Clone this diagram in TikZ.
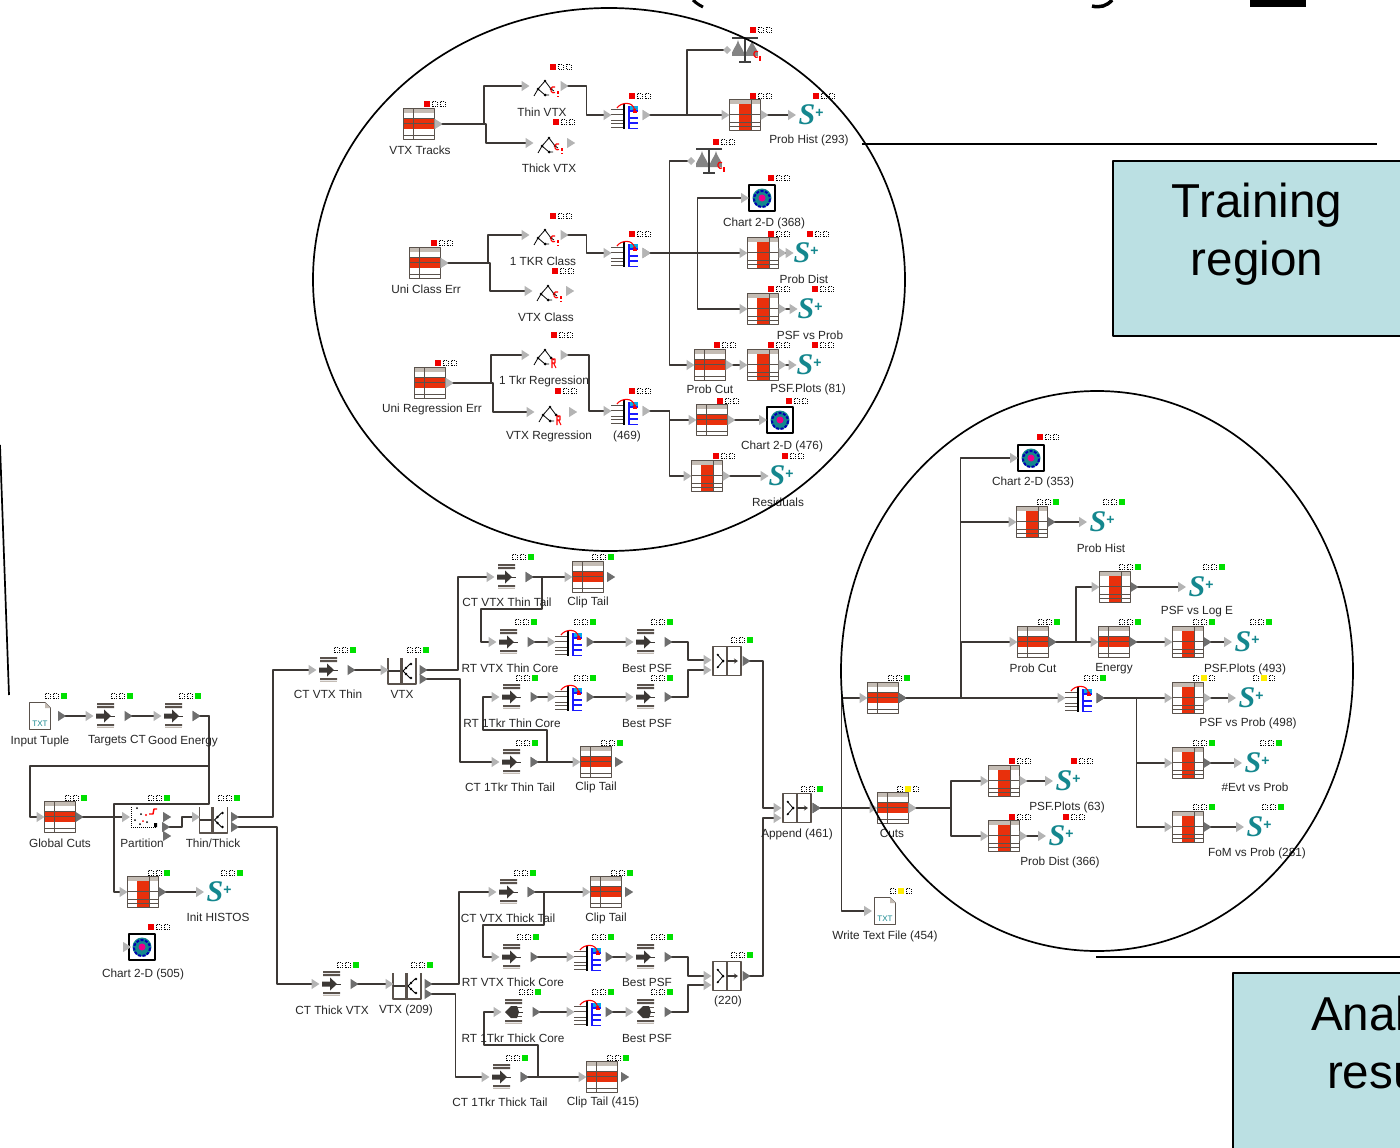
\documentclass[tikz,border=0pt]{standalone}
\usepackage{fontspec}
\setmainfont{Liberation Sans}
\newfontfamily\spfont{Liberation Serif}
\usetikzlibrary{arrows.meta,shapes.geometric}
\definecolor{wirec}{HTML}{3C3835}
\definecolor{portl}{HTML}{B4B4B4}
\definecolor{portd}{HTML}{6E6E6E}
\definecolor{tabl}{HTML}{5A524C}
\definecolor{tabg}{HTML}{C4BCB4}
\definecolor{tabr}{HTML}{E8300C}
\definecolor{teal1}{HTML}{14878E}
\definecolor{boxc}{HTML}{BBE0E3}
\definecolor{stred}{HTML}{F00000}
\definecolor{stgrn}{HTML}{00E000}
\definecolor{styel}{HTML}{FFEE00}
\newcommand{\stat}[4]{\foreach \k in {1,2,3}{\ifnum\k=#3\relax\fill[#4] ({#1+8*\k-18.75},{#2-2.75}) rectangle ++(5.5,5.5);\else\draw[statd] ({#1+8*\k-18.75},{#2-2.5}) rectangle ++(5,5);\fi}}
\newcommand{\modu}[9][]{\node[modbox,#1] (#2) at (#4,#5) {};\pic at (#4,#5) {#3};\stat{#6}{#7}{#8}{#9}}
\newcommand{\splus}[8][]{\node[spbox,#1] (#2) at (#3,#4) {{\fontsize{30}{30}\spfont\bfseries\itshape S}\raisebox{7pt}{\fontsize{14}{14}\selectfont\bfseries +}};\stat{#5}{#6}{#7}{#8}}

\begin{document}
\begin{tikzpicture}[x=1pt,y=-1pt,line join=round]
\tikzset{every node/.style={outer sep=0pt,inner sep=0pt}}
\tikzset{modbox/.style={minimum width=31pt,minimum height=30pt}}
\tikzset{spbox/.style={minimum width=30pt,minimum height=30pt,text=teal1}}
\tikzset{lab/.style={font=\fontsize{11.8}{11.8}\selectfont,text=black!85,yshift=-1pt}}
\tikzset{statd/.style={draw=black,line width=0.7pt,dash pattern=on 0.8pt off 1.2pt}}
\tikzset{outp/.style={isosceles triangle,isosceles triangle stretches,minimum width=10pt,minimum height=8pt,fill=#1},outp/.default=portd}
\tikzset{wire/.style={draw=wirec,line width=1.3pt,{Triangle[reversed,length=8pt,width=10pt,color=portl]}-{Triangle[length=8pt,width=10pt,color=portl]}}}
\tikzset{wired/.style={draw=wirec,line width=1.3pt,{Triangle[reversed,length=8pt,width=10pt,color=portd]}-{Triangle[length=8pt,width=10pt,color=portl]}}}
\tikzset{wirem/.style={draw=wirec,line width=1.3pt,{Triangle[reversed,length=8pt,width=10pt,color=portl]}-{Diamond[length=8pt,width=8pt,color=portl]}}}
\tikzset{regbox/.style={draw=black,line width=1.5pt,fill=boxc,anchor=north west}}
\tikzset{bigt/.style={font=\fontsize{47.6}{58}\selectfont}}
\tikzset{rowtab/.pic={
\draw[tabl,line width=1.2pt,fill=white] (-15.5,-15.5) rectangle (15.5,15.5);
\fill[tabg] (-15,-15) rectangle (15,-11);
\fill[tabr] (-15,-6) rectangle (15,5);
\draw[tabl,line width=1pt] (-15,-6)--(15,-6) (-15,-1)--(15,-1) (-15,11)--(15,11) (-6,-15)--(-6,15);
}}
\tikzset{coltab/.pic={
\draw[tabl,line width=1.2pt,fill=white] (-15.5,-15.5) rectangle (15.5,15.5);
\fill[tabg] (-15,-15) rectangle (15,-11);
\fill[tabr] (-6,-11) rectangle (6,15);
\draw[tabl,line width=1pt] (-15,-1)--(15,-1) (-15,7)--(15,7) (-15,11)--(15,11) (6,-15)--(6,15);
}}
\tikzset{filt/.pic={
\fill[tabl] (-12,-13) rectangle (5,-11) (-12,-10) rectangle (5,-8) (-12,8) rectangle (5,10);
\fill[tabg] (-12,11) rectangle (5,12);
\fill[wirec] (-13,-2.5)--(-5,-2.5)--(-5,-6.5)--(2,0)--(-5,6.5)--(-5,2.5)--(-13,2.5)--cycle;
\draw[wirec,line width=0.8pt] (1,0)--(6,0);
}}
\tikzset{filtb/.pic={
\fill[tabl] (-12,-13) rectangle (5,-11) (-12,-10) rectangle (5,-8) (-12,8) rectangle (5,10);
\fill[tabg] (-12,11) rectangle (5,12);
\draw[tabl,line width=1pt] (-2,-4.5)--(5,-4.5) (-2,4.5)--(5,4.5);
\fill[wirec] (-12,0)--(-6,-6)--(0,-6)--(2,0)--(0,6)--(-6,6)--cycle;
\draw[wirec,line width=0.8pt] (1,0)--(6,0);
}}
\tikzset{treec/.pic={
\draw[black,line width=0.8pt] (-11,10)--(-7,3)--(0,-5)--(6,3)--(9,5) (-7,3)--(0,9)--(4,9);
\fill[black] (0,-5) circle (1.3) (-7,3) circle (1.5) (6,3) circle (1.5) (0,9) circle (1.5);
\draw[red,line width=1.1pt] (10,6.5) arc (60:300:2.8 and 3.2);
\draw[red,line width=1.1pt] (13,5)--(13,8) (13,10)--(13,11);
}}
\tikzset{treer/.pic={
\draw[black,line width=0.8pt] (-11,10)--(-7,3)--(0,-5)--(6,3)--(9,5) (-7,3)--(0,9)--(4,9);
\fill[black] (0,-5) circle (1.3) (-7,3) circle (1.5) (6,3) circle (1.5) (0,9) circle (1.5);
\draw[red,line width=1.1pt] (7,13)--(7,4)--(10,4)--(10,8)--(7,8) (8.5,8)--(11,13);
}}
\tikzset{mergep/.pic={
\draw[tabl,line width=1pt] (-16,-6)--(-3,-6) (-16,-1)--(-3,-1) (-16,5)--(-3,5) (-16,8.5)--(-3,8.5) (-16,12)--(-3,12);
\draw[black,line width=1.4pt] (-3,-11)--(-3,14);
\fill[cyan] (2,-9) rectangle (11,-4);
\draw[blue!90,line width=1.2pt] (2,-9)--(2,14) (2,-4)--(11,-4) (2,3)--(11,3) (2,8)--(11,8) (2,13.5)--(11,13.5);
\draw[red,line width=1.1pt,-{Stealth[length=3.5pt,width=4pt]}] (-10,-7) .. controls (-6,-13) and (6,-14) .. (8,-3);
\draw[red,line width=1.1pt] (6,-3)--(10,-3);
}}
\tikzset{scalep/.pic={
\fill[portd!85] (-7,-10) .. controls (-5,-2) and (0,0) .. (-1,6)--(-13,6) .. controls (-14,0) and (-9,-2) .. (-7,-10) (7,-10) .. controls (9,-2) and (14,0) .. (13,6)--(1,6) .. controls (0,0) and (5,-2) .. (7,-10);
\draw[black!75,line width=1.6pt] (-13,-12)--(13,-12) (0,-12)--(0,12) (-6,12)--(6,12);
\draw[red,line width=1.2pt] (13,7) arc (60:300:2.8 and 3.2);
\draw[red,line width=1.1pt] (15,6)--(15,11);
}}
\tikzset{scatterp/.pic={
\draw[black,line width=0.8pt,dash pattern=on 1pt off 1pt] (-13,-10)--(-13,10)--(12,10);
\fill[black] (-7,-9) circle (1) (-3,-3) circle (1) (-9,3) circle (1) (-4,7) circle (1) (3,5) circle (1) (10,6) rectangle (13,10);
\fill[red] (2,-2) circle (1.1) (-1,4) circle (1);
\draw[red,line width=1.4pt] (5,-3)--(9,-3)--(10,-8)--(13,-8);
}}
\tikzset{splitp/.pic={
\draw[tabl,line width=1.1pt] (-16,-13)--(-16,13)--(12,13)--(12,-13);
\draw[tabl,line width=3pt] (-3,-13)--(-3,13);
\draw[wirec,line width=2pt] (-16,0)--(-4,0);
\draw[black,line width=0.8pt] (-1,0)--(6,-7) (-1,0)--(6,7);
\fill[black] (2,-3) circle (1.3) (2,3) circle (1.3) (7,-7) circle (1.3) (7,7) circle (1.3);
}}
\tikzset{appendp/.pic={
\draw[tabl,line width=1.2pt,fill=white] (-14,-14.5) rectangle (14,14.5);
\draw[tabl,line width=1.6pt] (0,-14.5)--(0,14.5);
\draw[black,line width=0.8pt] (-10,-7)--(-4,0)--(-10,7);
\fill[black] (-4,0) circle (1.5) (-9,-6) circle (1.2) (-9,6) circle (1.2);
\draw[wirec,line width=2pt,-{Stealth[length=4pt,width=5pt]}] (0,0)--(11,0);
}}
\tikzset{filep/.pic={
\draw[tabl,line width=0.9pt,fill=white] (-10.5,-13.5)--(5,-13.5)--(10.5,-8)--(10.5,13.5)--(-10.5,13.5)--cycle;
\fill[tabg] (5,-13.5)--(10.5,-8)--(5,-8)--cycle;
}}
\tikzset{chartp/.pic={
\draw[black,line width=1.3pt,fill=white] (-13,-13) rectangle (13,13);
\fill[teal1] (0,0) circle (9.5);
\draw[blue!70!black,line width=2pt,dash pattern=on 3pt off 1.5pt] (0,1) circle (8);
\fill[magenta] (0,0) circle (3.5);
}}
\useasboundingbox (0,0) rectangle (1400,1148);
% title remains
\draw[black,line width=3pt] (693,0) .. controls (696,3) and (699,5) .. (703,7);
\draw[black,line width=3.5pt] (1092,6) .. controls (1100,8) and (1107,6) .. (1112,0);
\fill[black] (1250,0) rectangle (1306,7);
% training chain
\modu{vtxtracks}{rowtab}{419}{124}{435}{104}{1}{stred}
\modu{thinvtx}{treec}{545}{86}{561}{67}{1}{stred}
\modu{thickvtx}{treec}{549}{143}{564}{122}{1}{stred}
\modu{mergeA}{mergep}{627}{115}{640}{96}{1}{stred}
\modu[minimum width=28pt]{scaleA}{scalep}{745}{50}{761}{30}{1}{stred}
\modu{tabA}{coltab}{745}{115}{761}{96}{1}{stred}
\splus{spA}{811}{115}{824}{96}{1}{stred}
\modu{unicls}{rowtab}{425}{263}{442}{243}{1}{stred}
\modu{tkrcls}{treec}{545}{235}{561}{216}{1}{stred}
\modu{vtxcls}{treec}{548}{291}{563}{271}{1}{stred}
\modu{mergeB}{mergep}{627}{253}{640}{234}{1}{stred}
\modu[minimum width=28pt]{scaleB}{scalep}{709}{161}{724}{142}{1}{stred}
\modu[minimum width=26pt]{chartA}{chartp}{762}{198}{779}{178}{1}{stred}
\modu{tabB}{coltab}{763}{253}{779}{234}{1}{stred}
\splus[minimum width=22pt]{spB}{806}{253}{818}{234}{1}{stred}
\modu{tabC}{coltab}{763}{309}{779}{289}{1}{stred}
\splus[minimum width=22pt]{spC}{810}{309}{823}{289}{1}{stred}
\modu{probcutA}{rowtab}{710}{365}{725}{345}{1}{stred}
\modu{tabD}{coltab}{763}{365}{779}{345}{1}{stred}
\splus[minimum width=22pt]{spD}{809}{365}{823}{345}{1}{stred}
\modu{unireg}{rowtab}{430}{383}{446}{363}{1}{stred}
\modu{tkrreg}{treer}{545}{355}{562}{335}{1}{stred}
\modu{vtxreg}{treer}{550}{412}{566}{391}{1}{stred}
\modu{mergeC}{mergep}{627}{411}{640}{391}{1}{stred}
\modu{tabE}{rowtab}{712}{420}{728}{401}{1}{stred}
\modu[minimum width=26pt]{chartB}{chartp}{780}{420}{797}{401}{1}{stred}
\modu{tabF}{coltab}{707}{476}{724}{456}{1}{stred}
\splus[minimum width=22pt]{spF}{781}{476}{793}{456}{1}{stred}
\node[outp=portl] (thickvtxout) at (570,143) {};
\node[outp=portl] (vtxclsout) at (569,291) {};
\node[outp=portl] (vtxregout) at (572,412) {};
\draw[wire] (vtxtracks.east) -- ++(49.5,0) |- (thinvtx.west);
\draw[wire] (vtxtracks.east) -- ++(51.5,0) |- (thickvtx.west);
\draw[wire] (thinvtx.east) -- ++(26,0) |- (mergeA.west);
\draw[wire] (mergeA.east) -- (tabA.west);
\draw[wirem] (mergeA.east) -- ++(44.5,0) |- (scaleA.west);
\draw[wire] (tabA.east) -- (spA.west);
\draw[wire] (unicls.east) -- ++(47.5,0) |- (tkrcls.west);
\draw[wire] (unicls.east) -- ++(49.5,0) |- (vtxcls.west);
\draw[wire] (tkrcls.east) -- ++(26,0) |- (mergeB.west);
\draw[wire] (mergeB.east) -- (tabB.west);
\draw[wirem] (mergeB.east) -- ++(27,0) |- (scaleB.west);
\draw[wire] (mergeB.east) -- ++(27,0) |- (probcutA.west);
\draw[wire] (mergeB.east) -- ++(55,0) |- (chartA.west);
\draw[wire] (mergeB.east) -- ++(55,0) |- (tabC.west);
\draw[wire] (tabB.east) -- (spB.west);
\draw[wire] (tabC.east) -- (spC.west);
\draw[wire] (probcutA.east) -- (tabD.west);
\draw[wire] (tabD.east) -- (spD.west);
\draw[wire] (unireg.east) -- ++(45.5,0) |- (tkrreg.west);
\draw[wire] (unireg.east) -- ++(47.5,0) |- (vtxreg.west);
\draw[wire] (tkrreg.east) -- ++(28.5,0) |- (mergeC.west);
\draw[wire] (mergeC.east) -- ++(27,0) |- (tabE.west);
\draw[wire] (mergeC.east) -- ++(27,0) |- (tabF.west);
\draw[wire] (tabE.east) -- (chartB.west);
\draw[wire] (tabF.east) -- (spF.west);
\node[lab] (labA) at (420,149) {VTX Tracks};
\node[lab] (labB) at (542,111) {Thin VTX};
\node[lab] (labC) at (549,167) {Thick VTX};
\node[lab] (labD) at (809,139) {Prob Hist (293)};
\node[lab] (labE) at (426,288) {Uni Class Err};
\node[lab] (labF) at (543,260) {1 TKR Class};
\node[lab] (labG) at (546,316) {VTX Class};
\node[lab] (labH) at (764,222) {Chart 2-D (368)};
\node[lab] (labI) at (804,278) {Prob Dist};
\node[lab] (labJ) at (810,334) {PSF vs Prob};
\node[lab] (labK) at (710,388) {Prob Cut};
\node[lab] (labL) at (808,388) {PSF.Plots (81)};
\node[lab] (labM) at (432,408) {Uni Regression Err};
\node[lab] (labN) at (544,380) {1 Tkr Regression};
\node[lab] (labO) at (549,435) {VTX Regression};
\node[lab] (labP) at (627,435) {(469)};
\node[lab] (labQ) at (782,445) {Chart 2-D (476)};
\node[lab] (labR) at (778,501) {Residuals};
% analysis chain
\modu{rowZ}{rowtab}{883}{698}{899}{678}{3}{stgrn}
\modu[minimum width=26pt]{chartC}{chartp}{1031}{458}{1048}{437}{1}{stred}
\modu{tabG}{coltab}{1032}{522}{1048}{502}{3}{stgrn}
\splus{spG}{1102}{522}{1114}{502}{3}{stgrn}
\modu{tabH}{coltab}{1115}{587}{1130}{567}{3}{stgrn}
\splus{spH}{1201}{587}{1214}{567}{3}{stgrn}
\modu{probcutB}{rowtab}{1033}{642}{1049}{622}{3}{stgrn}
\modu{energy}{rowtab}{1114}{642}{1130}{622}{3}{stgrn}
\modu{tabI}{coltab}{1188}{642}{1204}{622}{3}{stgrn}
\splus{spI}{1247}{642}{1261}{622}{3}{stgrn}
\modu{mergeH}{mergep}{1081}{698}{1095}{678}{3}{stgrn}
\modu{tabJ}{coltab}{1188}{698}{1204}{678}{2}{styel}
\splus{spJ}{1251}{698}{1264}{678}{2}{styel}
\modu{tabK}{coltab}{1188}{763}{1204}{743}{3}{stgrn}
\splus{spK}{1257}{763}{1271}{743}{3}{stgrn}
\modu{tabL}{coltab}{1188}{827}{1204}{807}{3}{stgrn}
\splus{spL}{1259}{827}{1273}{807}{3}{stgrn}
\modu{cuts}{rowtab}{893}{808}{908}{789}{2}{styel}
\modu{tabM}{coltab}{1004}{781}{1020}{761}{1}{stred}
\splus{spM}{1068}{781}{1082}{761}{1}{stred}
\modu{tabN}{coltab}{1004}{836}{1020}{817}{1}{stred}
\splus{spN}{1061}{836}{1074}{817}{1}{stred}
\modu[minimum width=26pt]{writetxt}{filep}{885}{911}{901}{891}{2}{styel}
\node[font=\fontsize{8}{8}\selectfont,text=teal1] (writetxtic) at (885,919) {TXT};
\draw[wired] (rowZ.east) -- ++(62,0) |- (chartC.west);
\draw[wired] (rowZ.east) -- ++(62,0) |- (tabG.west);
\draw[wired] (rowZ.east) -- ++(63,0) |- (probcutB.west);
\draw[wired] (rowZ.east) -- (mergeH.west);
\draw[wired] (tabG.east) -- (spG.west);
\draw[wired] (probcutB.east) -- (energy.west);
\draw[wired] (probcutB.east) -- ++(27.5,0) |- (tabH.west);
\draw[wired] (tabH.east) -- (spH.west);
\draw[wired] (energy.east) -- (tabI.west);
\draw[wired] (tabI.east) -- (spI.west);
\draw[wired] (mergeH.east) -- (tabJ.west);
\draw[wired] (mergeH.east) -- ++(40,0) |- (tabK.west);
\draw[wired] (mergeH.east) -- ++(40,0) |- (tabL.west);
\draw[wire] (tabJ.east) -- (spJ.west);
\draw[wired] (tabK.east) -- (spK.west);
\draw[wired] (tabL.east) -- (spL.west);
\draw[wire] (cuts.east) -- ++(42.5,0) |- (tabM.west);
\draw[wire] (cuts.east) -- ++(42.5,0) |- (tabN.west);
\draw[wire] (tabM.east) -- (spM.west);
\draw[wire] (tabN.east) -- (spN.west);
\node[lab] (labS) at (1033,481) {Chart 2-D (353)};
\node[lab] (labT) at (1101,547) {Prob Hist};
\node[lab] (labU) at (1197,611) {PSF vs Log E};
\node[lab] (labV) at (1033,667) {Prob Cut};
\node[lab] (labW) at (1114,668) {Energy};
\node[lab] (labX) at (1245,668) {PSF.Plots (493)};
\node[lab] (labY) at (1248,722) {PSF vs Prob (498)};
\node[lab] (labZ) at (1255,786) {\#Evt vs Prob};
\node[lab] (labAa) at (1257,852) {FoM vs Prob (281)};
\node[lab] (labAb) at (892,832) {Cuts};
\node[lab] (labAc) at (1067,806) {PSF.Plots (63)};
\node[lab] (labAd) at (1060,861) {Prob Dist (366)};
\node[lab] (labAe) at (885,935) {Write Text File (454)};
% left part
\modu[minimum width=36pt]{tuple}{filep}{40}{716}{56}{696}{3}{stgrn}
\node[font=\fontsize{8}{8}\selectfont,text=teal1] (tupletxt) at (40,724) {TXT};
\modu{targets}{filt}{109}{716}{122}{696}{3}{stgrn}
\modu{goodeng}{filt}{177}{716}{190}{696}{3}{stgrn}
\modu{globalcuts}{rowtab}{60}{817}{76}{798}{3}{stgrn}
\modu[minimum width=28pt]{partit}{scatterp}{144}{817}{159}{798}{3}{stgrn}
\modu{thinthick}{splitp}{215.5}{820}{229}{798}{3}{stgrn}
\modu{initab}{coltab}{143}{892}{159}{873}{3}{stgrn}
\splus{spInit}{219}{892}{232}{873}{3}{stgrn}
\modu[minimum width=26pt]{chartD}{chartp}{142}{947}{159}{927}{1}{stred}
\node[outp] (partitoutA) at (166,817) {};
\node[outp] (partitoutB) at (166,836) {};
\node[outp=portl] (chartDin) at (126,947) {};
\draw[wired] (tuple.east) -- (targets.west);
\draw[wired] (targets.east) -- (goodeng.west);
\draw[wired] (goodeng.east) -- ++(16.5,0) -- ++(0,50) -- ++(-179,0) |- (globalcuts.west);
\draw[wired] (goodeng.east) -- ++(16.5,0) -- ++(0,88) -- ++(-95,0) |- (initab.west);
\draw[wired] (globalcuts.east) -- (partit.west);
\draw[wired] ([xshift=4pt,yshift=-10pt]partit.east) -- ++(20,0) |- ([yshift=3pt]thinthick.west);
\draw[wired] (initab.east) -- (spInit.west);
\node[lab] (labAf) at (40,740) {Input Tuple};
\node[lab] (labAg) at (117,740) {Targets CT};
\node[lab] (labAh) at (183,740) {Good Energy};
\node[lab] (labAi) at (60,842) {Global Cuts};
\node[lab] (labAj) at (142,842) {Partition};
\node[lab] (labAk) at (213,842) {Thin/Thick};
\node[lab] (labAl) at (218,916) {Init HISTOS};
\node[lab] (labAm) at (143,973) {Chart 2-D (505)};
% middle part
\modu{ctthin}{filt}{332}{670}{345}{650}{3}{stgrn}
\modu{vtxa}{splitp}{404}{671}{418}{650}{3}{stgrn}
\modu{fVTT}{filt}{510}{577}{523}{557}{3}{stgrn}
\modu{clipA}{rowtab}{588}{577}{603}{557}{3}{stgrn}
\modu{fRVT}{filt}{512}{642}{526}{622}{3}{stgrn}
\modu{mergeD}{mergep}{571}{642}{585}{622}{3}{stgrn}
\modu{bestA}{filt}{649}{642}{662}{622}{3}{stgrn}
\modu{f1TN}{filt}{515}{697}{527}{678}{3}{stgrn}
\modu{mergeE}{mergep}{571}{697}{585}{678}{3}{stgrn}
\modu{bestB}{filt}{649}{697}{662}{678}{3}{stgrn}
\modu{appA}{appendp}{727}{661}{742}{640}{3}{stgrn}
\modu{f1TT}{filt}{515}{762}{527}{743}{3}{stgrn}
\modu{clipB}{rowtab}{596}{762}{612}{743}{3}{stgrn}
\modu{app}{appendp}{797}{808}{812}{789}{3}{stgrn}
\modu{ctthk}{filt}{335}{984}{348}{965}{3}{stgrn}
\modu{vtxb}{splitp}{409}{986}{422}{965}{3}{stgrn}
\modu{fVKT}{filt}{512}{892}{525}{873}{3}{stgrn}
\modu{clipC}{rowtab}{606}{892}{622}{873}{3}{stgrn}
\modu{fRKT}{filt}{515}{957}{528}{937}{3}{stgrn}
\modu{mergeF}{mergep}{590}{957}{603}{937}{3}{stgrn}
\modu{bestC}{filt}{649}{957}{662}{937}{3}{stgrn}
\modu{f1KN}{filtb}{517}{1012}{530}{992}{3}{stgrn}
\modu{mergeG}{mergep}{590}{1012}{603}{992}{3}{stgrn}
\modu{bestD}{filtb}{649}{1012}{662}{992}{3}{stgrn}
\modu{appB}{appendp}{727}{976}{742}{955}{3}{stgrn}
\modu{f1KT}{filt}{505}{1077}{517}{1058}{3}{stgrn}
\modu{clipD}{rowtab}{602}{1077}{618}{1058}{3}{stgrn}
\node[outp] (clipAout) at (610,577) {};
\node[outp] (clipBout) at (618,762) {};
\node[outp] (clipCout) at (628,892) {};
\node[outp] (clipDout) at (624,1077) {};
\draw[wired] ([yshift=3pt]thinthick.east) -- ++(42,0) |- (ctthin.west);
\draw[wired] ([yshift=-7pt]thinthick.east) -- ++(46,0) |- (ctthk.west);
\draw[wired] (ctthin.east) -- ([yshift=1pt]vtxa.west);
\draw[wired] ([yshift=1pt]vtxa.east) -- ++(38.5,0) |- (fVTT.west);
\draw[wired] ([yshift=-8pt]vtxa.east) -- ++(40.5,0) |- (f1TT.west);
\draw[wired] (fVTT.east) -- (clipA.west);
\draw[wired] (fVTT.east) -- ++(16.5,0) -- ++(0,32) -- ++(-61,0) |- (fRVT.west);
\draw[wired] (fRVT.east) -- (mergeD.west);
\draw[wired] (mergeD.east) -- (bestA.west);
\draw[wired] (bestA.east) -- ++(23.5,0) |- ([yshift=1pt]appA.west);
\draw[wired] (f1TN.east) -- (mergeE.west);
\draw[wired] (mergeE.east) -- (bestB.west);
\draw[wired] (bestB.east) -- ++(23.5,0) |- ([yshift=-9pt]appA.west);
\draw[wired] (f1TT.east) -- (clipB.west);
\draw[wired] (f1TT.east) -- ++(16.5,0) -- ++(0,-32) -- ++(-64,0) |- (f1TN.west);
\draw[wired] (appA.east) -- ++(20.5,0) |- (app.west);
\draw[wired] (appB.east) -- ++(20.5,0) |- ([yshift=-10pt]app.west);
\draw[wired] (app.east) -- (cuts.west);
\draw[wired] (app.east) -- ++(29,0) |- (rowZ.west);
\draw[wired] (app.east) -- ++(29,0) |- (writetxt.west);
\draw[wired] (ctthk.east) -- ([yshift=2pt]vtxb.west);
\draw[wired] ([yshift=2pt]vtxb.east) -- ++(34.5,0) |- (fVKT.west);
\draw[wired] ([yshift=-8pt]vtxb.east) -- ++(31,0) |- (f1KT.west);
\draw[wired] (fVKT.east) -- (clipC.west);
\draw[wired] (fVKT.east) -- ++(16.5,0) -- ++(0,33) -- ++(-61,0) |- (fRKT.west);
\draw[wired] (fRKT.east) -- (mergeF.west);
\draw[wired] (mergeF.east) -- (bestC.west);
\draw[wired] (bestC.east) -- ++(23.5,0) |- (appB.west);
\draw[wired] (f1KN.east) -- (mergeG.west);
\draw[wired] (mergeG.east) -- (bestD.west);
\draw[wired] (bestD.east) -- ++(23.5,0) |- ([yshift=-9pt]appB.west);
\draw[wired] (f1KT.east) -- (clipD.west);
\draw[wired] (f1KT.east) -- ++(17.5,0) -- ++(0,-32) -- ++(-54,0) |- (f1KN.west);
\node[lab] (labAn) at (328,693) {CT VTX Thin};
\node[lab] (labAo) at (402,693) {VTX};
\node[lab] (labAp) at (507,601) {CT VTX Thin Tail};
\node[lab] (labAq) at (588,601) {Clip Tail};
\node[lab] (labAr) at (510,667) {RT VTX Thin Core};
\node[lab] (labAs) at (647,667) {Best PSF};
\node[lab] (labAt) at (512,722) {RT 1Tkr Thin Core};
\node[lab] (labAu) at (647,722) {Best PSF};
\node[lab] (labAv) at (510,786) {CT  1Tkr Thin Tail};
\node[lab] (labAw) at (596,786) {Clip Tail};
\node[lab] (labAx) at (797,833) {Append (461)};
\node[lab] (labAy) at (332,1009) {CT Thick VTX};
\node[lab] (labAz) at (406,1009) {VTX (209)};
\node[lab] (labBa) at (508,917) {CT VTX Thick Tail};
\node[lab] (labBb) at (606,917) {Clip Tail};
\node[lab] (labBc) at (513,981) {RT VTX Thick Core};
\node[lab] (labBd) at (647,981) {Best PSF};
\node[lab] (labBe) at (513,1037) {RT 1Tkr Thick Core};
\node[lab] (labBf) at (647,1037) {Best PSF};
\node[lab] (labBg) at (728,1000) {(220)};
\node[lab] (labBh) at (500,1101) {CT 1Tkr Thick Tail};
\node[lab] (labBi) at (603,1101) {Clip Tail (415)};
% circles and callouts
\draw[black,line width=1.7pt] (609,279.5) ellipse (296 and 271.5);
\draw[black,line width=1.7pt] (1097,671) ellipse (256 and 280);
\draw[black,line width=1.7pt] (862,144)--(1377,144);
\draw[black,line width=1.7pt] (1096,957)--(1400,957);
\draw[black,line width=1.7pt] (0,445)--(9,695);
\node[regbox,minimum width=290pt,minimum height=175pt] (trainbox) at (1113,161) {};
\node[bigt,align=center] (trainlab) at (1257,234) {Training\\region};
\node[regbox,minimum width=170pt,minimum height=178pt] (anabox) at (1233,973) {};
\node[bigt,anchor=base west] (analabA) at (1311,1030) {Anal};
\node[bigt,anchor=base west] (analabB) at (1327,1088) {resu};
\end{tikzpicture}
\end{document}
